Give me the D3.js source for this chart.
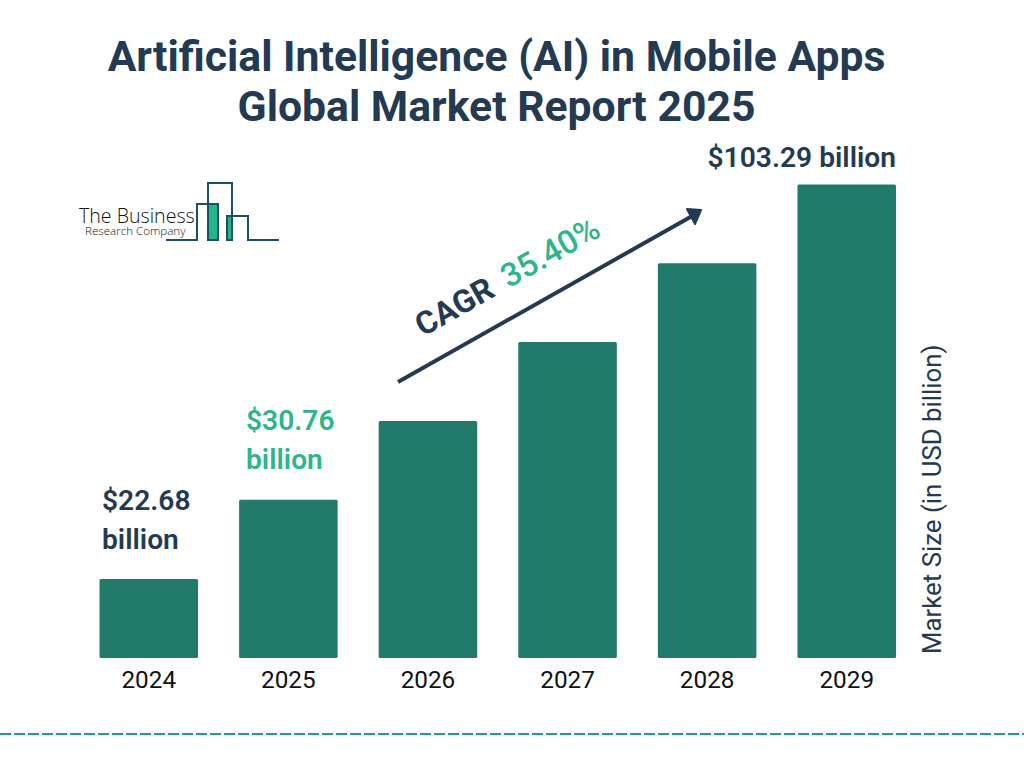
<html>
  <head>
    <title>AI in Mobile Apps</title>
    <script src="https://d3js.org/d3.v7.min.js"></script>
    <style>
      html, body { margin: 0; padding: 0; background: #fff; }
      svg { display: block; font-family: Roboto, sans-serif; }
      .domain { display: none; }
      .tick line { display: none; }
    </style>
  </head>
  <body>
    <svg id="chart" width="1024" height="768"></svg>
    <script>
      // values (only 2024, 2025 and 2029 are printed, rest estimated)
      const years = ['2024', '2025', '2026', '2027', '2028', '2029'];
      const marketSize = [22.68, 30.76, 41.65, 56.39, 76.36, 103.29];
      const titleLines = ['Artificial Intelligence (AI) in Mobile Apps', 'Global Market Report 2025'];
      const label2024 = ['$22.68', 'billion'];
      const label2025 = ['$30.76', 'billion'];
      const label2029 = '$103.29 billion';

      const navy = '#233a52';
      const barColor = '#217a6a';
      const green = '#2fb58a';

      const svg = d3.select('svg#chart');

      // title
      svg.selectAll('text.title').data(titleLines).join('text')
        .attr('class', 'title')
        .attr('x', 496.5)
        .attr('y', (d, i) => 71 + i * 50)
        .attr('text-anchor', 'middle')
        .attr('font-size', 42.7)
        .attr('font-weight', 700)
        .attr('fill', navy)
        .text(d => d);

      // scales, the bars step evenly so the height axis is logarithmic
      const xScale = d3.scaleBand().domain(years).range([99.5, 896]).paddingInner(0.294);
      const yScale = d3.scaleLog().domain([16.75, 103.29]).range([658, 184.5]);

      svg.selectAll('rect.bar').data(marketSize).join('rect')
        .attr('class', 'bar')
        .attr('x', (d, i) => xScale(years[i]))
        .attr('y', d => yScale(d))
        .attr('width', xScale.bandwidth())
        .attr('height', d => yScale.range()[0] - yScale(d))
        .attr('rx', 1.5)
        .attr('fill', barColor);

      // x axis
      svg.append('g')
        .attr('transform', 'translate(0,657.5)')
        .call(d3.axisBottom(xScale).tickSize(0).tickPadding(13))
        .call(g => g.selectAll('text')
          .attr('font-family', 'Roboto, sans-serif')
          .attr('font-size', 24.3)
          .attr('fill', '#111'));

      // value labels
      function stacked(lines, x, y, color) {
        svg.selectAll(null).data(lines).join('text')
          .attr('x', x)
          .attr('y', (d, i) => y + i * 38.5)
          .attr('font-size', 28.2)
          .attr('font-weight', 600)
          .attr('fill', color)
          .text(d => d);
      }
      stacked(label2024, 102, 510, navy);
      stacked(label2025, 246, 430, green);

      svg.append('text')
        .attr('x', 896)
        .attr('y', 167)
        .attr('text-anchor', 'end')
        .attr('font-size', 28.2)
        .attr('font-weight', 600)
        .attr('fill', navy)
        .text(label2029);

      // y axis title
      svg.append('text')
        .attr('transform', 'translate(941,654) rotate(-90)')
        .attr('font-size', 25.8)
        .attr('fill', navy)
        .text('Market Size (in USD billion)');

      // CAGR arrow
      svg.append('line')
        .attr('x1', 398).attr('y1', 382)
        .attr('x2', 694).attr('y2', 215)
        .attr('stroke', navy)
        .attr('stroke-width', 4);
      svg.append('path')
        .attr('d', 'M701,210 L687,209 L695,224 Z')
        .attr('fill', navy)
        .attr('stroke', navy)
        .attr('stroke-width', 2)
        .attr('stroke-linejoin', 'round');

      const cagr = svg.append('text')
        .attr('transform', 'translate(423,337) rotate(-29.5)')
        .attr('font-size', 32);
      cagr.append('tspan').attr('font-weight', 700).attr('fill', navy).text('CAGR');
      cagr.append('tspan').attr('dx', 14).attr('font-size', 32.8).attr('font-weight', 500).attr('fill', green).text('35.40%');

      // logo
      const logo = svg.append('g').attr('fill', 'none').attr('stroke', '#1f4e5f').attr('stroke-width', 2);
      logo.append('rect').attr('x', 209).attr('y', 204).attr('width', 9).attr('height', 35).attr('fill', '#1fb88a').attr('stroke', 'none');
      logo.append('rect').attr('x', 228).attr('y', 217).attr('width', 4).attr('height', 22).attr('fill', '#1fb88a').attr('stroke', 'none');
      logo.append('path').attr('d', 'M166,240 H197 V204 H218 V240 H208 V183 H232 V240 H227 V216 H248 V240 H279');
      logo.append('text')
        .attr('x', 79).attr('y', 223)
        .attr('font-family', 'Open Sans, sans-serif')
        .attr('font-weight', 300)
        .attr('font-size', 19.6)
        .attr('fill', '#111').attr('stroke', 'none')
        .text('The Business');
      logo.append('text')
        .attr('x', 85).attr('y', 235)
        .attr('font-family', 'Open Sans, sans-serif')
        .attr('font-weight', 300)
        .attr('font-size', 11.6)
        .attr('fill', '#111').attr('stroke', 'none')
        .text('Research Company');

      // dashed rule at the bottom
      svg.append('line')
        .attr('x1', 0).attr('y1', 734)
        .attr('x2', 1024).attr('y2', 734)
        .attr('stroke', '#1f9e8f')
        .attr('stroke-width', 2)
        .attr('stroke-dasharray', '11 3');
    </script>
  </body>
</html>
